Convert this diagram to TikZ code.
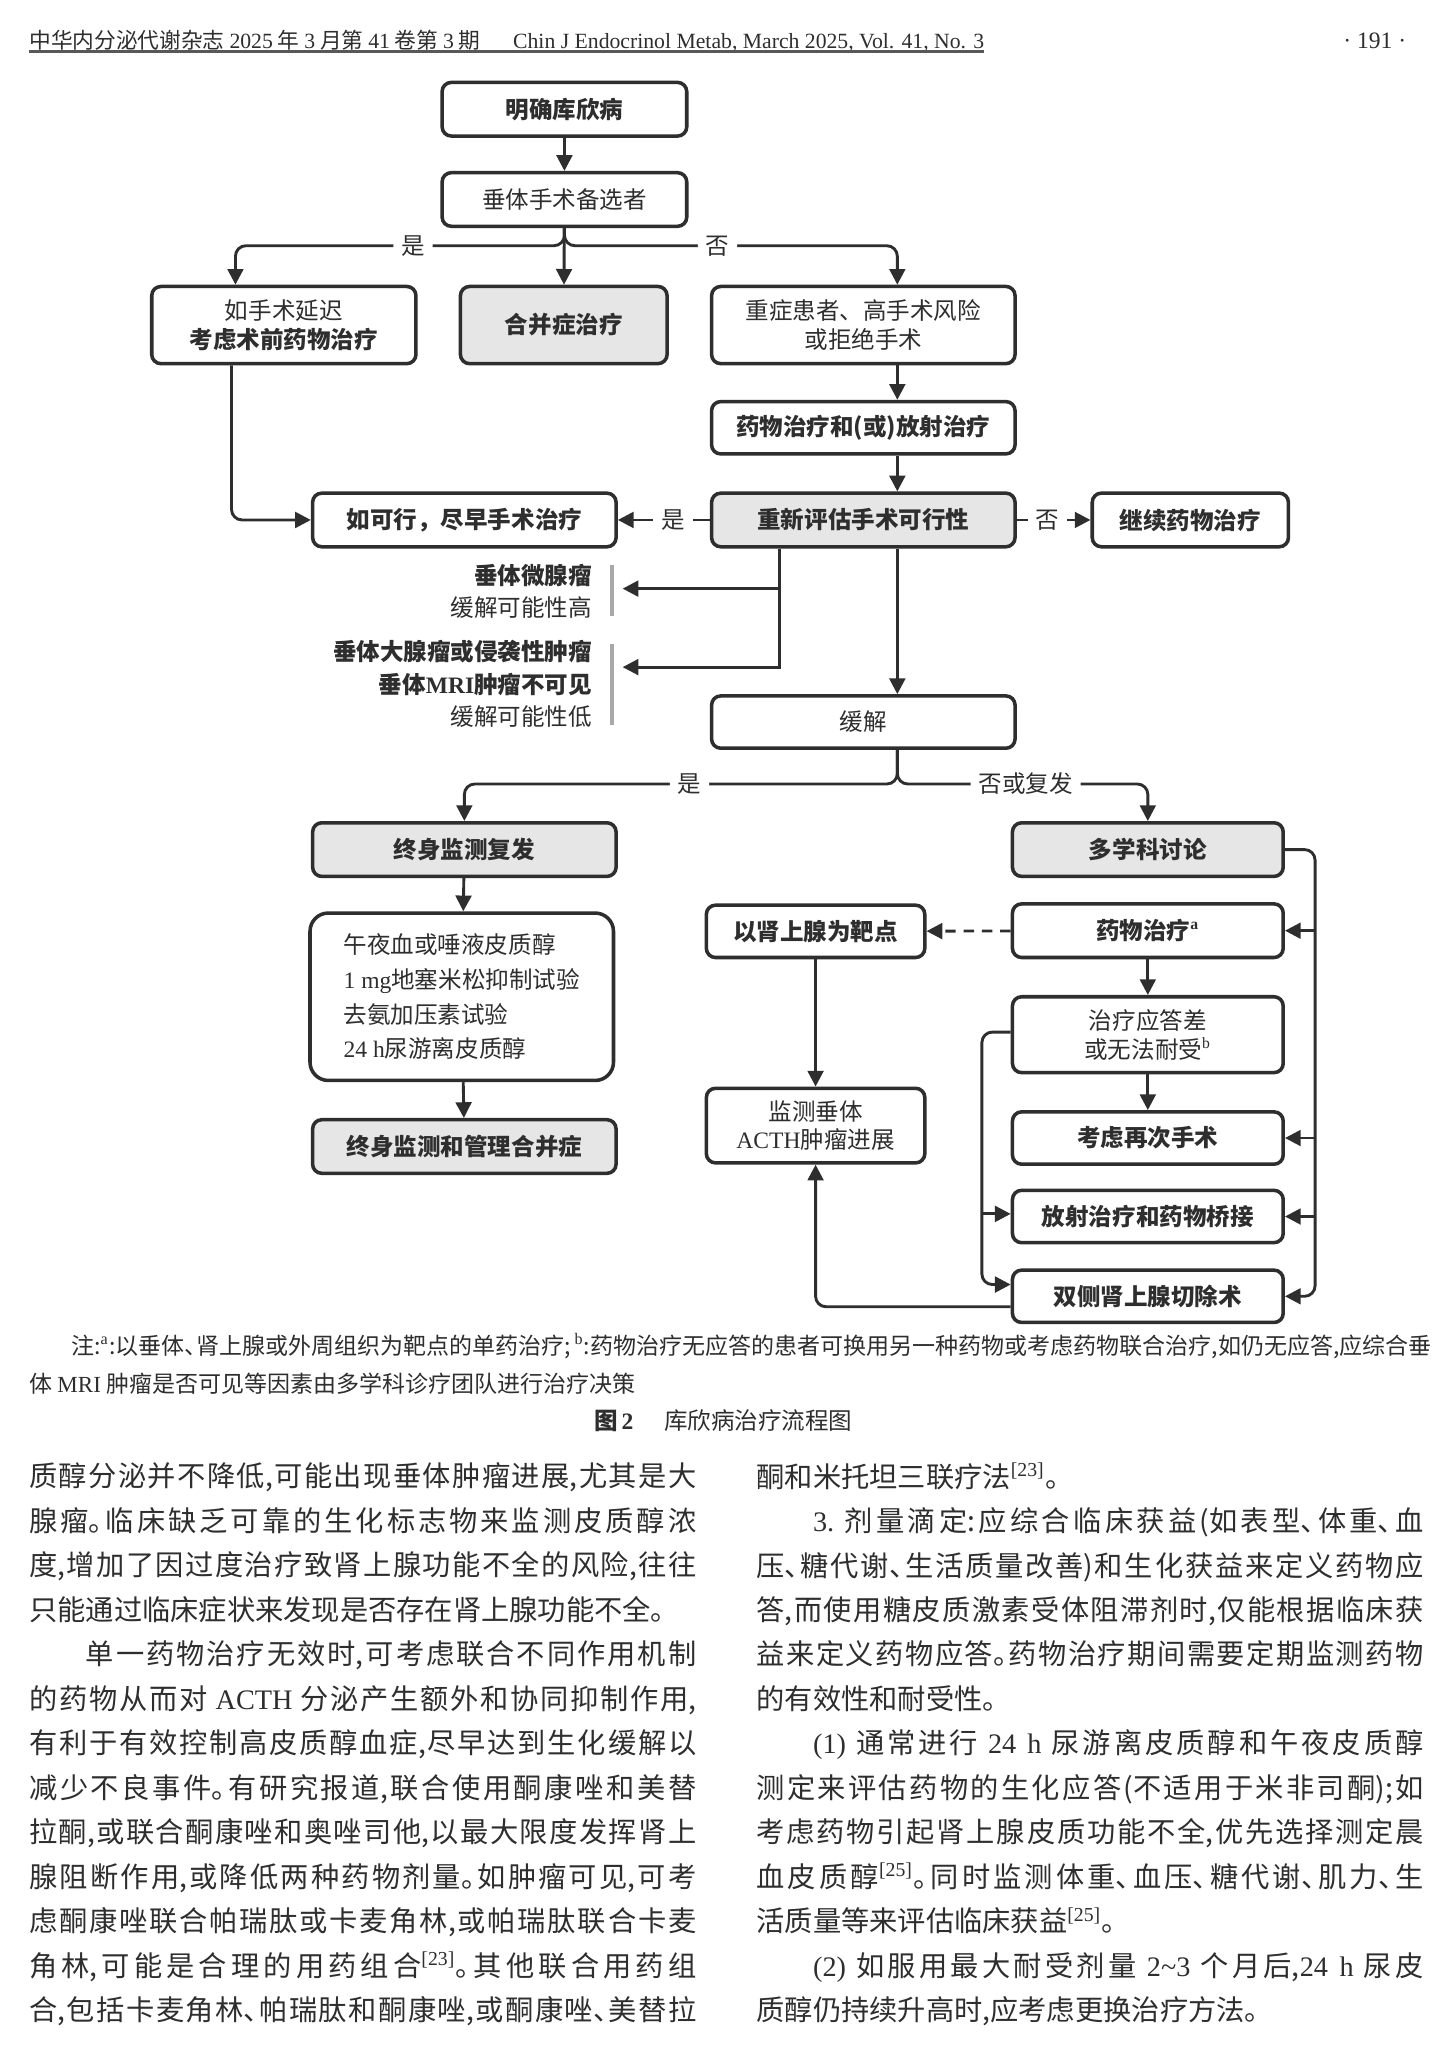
\documentclass[tikz,border=0pt]{standalone}
\usepackage{graphicx}
\usepackage{fontspec}
\setmainfont{Noto Sans CJK SC}
\newfontfamily\bodyfont[RawFeature=+halt]{Noto Sans CJK SC}
\newfontfamily\latfont{Liberation Serif}
\newcommand\lat[1]{{\latfont #1}}
\usetikzlibrary{positioning}
\usetikzlibrary{arrows.meta}
\usetikzlibrary{calc}
\definecolor{ink}{HTML}{2E2E2E}
\definecolor{shade}{HTML}{E6E6E6}
\definecolor{barc}{HTML}{A8A8A8}
\XeTeXlinebreaklocale "zh"
\XeTeXlinebreakskip=0pt plus 1pt
\XeTeXlinebreakpenalty=10000

\begin{document}
\begin{tikzpicture}[x=0.5pt, y=-0.5pt,
  every node/.style={text=ink},
  box/.style={draw=ink, line width=1.35pt, rounded corners=3.5pt, fill=white, align=center,
    inner sep=1pt, minimum height=20.5pt, font=\fontsize{9}{11}\selectfont},
  hl/.style={box, fill=shade},
  lbl/.style={fill=white, inner xsep=3pt, inner ysep=0.5pt, font=\fontsize{9}{11}\selectfont},
  arr/.style={draw=ink, line width=1.1pt, -{Triangle[length=6pt,width=6pt]}},
  side/.style={align=right, inner sep=0pt, font=\fontsize{9}{12.5}\selectfont},
  bar/.style={draw=barc, line width=1.4pt},
  body/.style={anchor=north west, inner sep=0pt, text width=255pt, align=justify,
    font=\bodyfont\fontsize{10.8}{17}\selectfont}]

  \fill[white] (0,0) rectangle (1110,1569.5);
  \useasboundingbox (0,0) rectangle (1110,1569.5);

  % running head
  \node[anchor=west, inner sep=0pt, font=\fontsize{8.5}{10}\selectfont] (head) at (22,31)
    {\resizebox{365pt}{!}{中华内分泌代谢杂志 \lat{2025} 年 \lat{3} 月第 \lat{41} 卷第 \lat{3} 期\hspace{1.5em}\lat{Chin J Endocrinol Metab, March 2025, Vol. 41, No. 3}}};
  \draw[draw=ink!80, line width=1.2pt] (22,39.5) -- (752,39.5);
  \node[inner sep=0pt, font=\latfont\fontsize{9}{10}\selectfont] (page) at (1051,31) {· 191 ·};

  % flow chart
  \node[box, minimum width=93.5pt] (diag) at (431.5,83.5) {\bfseries 明确库欣病};
  \node[box, minimum width=93.5pt] (cand) at (431.5,152.5) {垂体手术备选者};
  \node[box, minimum width=101pt, minimum height=29.5pt] (delay) at (217,248.5) {如手术延迟\\\bfseries 考虑术前药物治疗};
  \node[hl, minimum width=79pt, minimum height=29.5pt] (comorb) at (431,248.5) {\bfseries 合并症治疗};
  \node[box, minimum width=116pt, minimum height=29.5pt] (risk) at (660,248.5) {重症患者、高手术风险\\或拒绝手术};
  \node[box, minimum width=116pt, minimum height=20pt] (medrad) at (660,327) {\bfseries 药物治疗和(或)放射治疗};
  \node[box, minimum width=116pt] (early) at (355,397.5) {\bfseries 如可行，尽早手术治疗};
  \node[hl, minimum width=116pt] (reeval) at (660,397.5) {\bfseries 重新评估手术可行性};
  \node[box, minimum width=75pt] (cont) at (910,397.5) {\bfseries 继续药物治疗};
  \node[side, anchor=east] (micro) at (453,452) {{\bfseries 垂体微腺瘤}\\缓解可能性高};
  \node[side, anchor=east] (macro) at (453,523) {{\bfseries 垂体大腺瘤或侵袭性肿瘤}\\{\bfseries 垂体\lat{MRI}肿瘤不可见}\\缓解可能性低};
  \node[box, minimum width=116pt, minimum height=20pt] (remis) at (660,552) {缓解};
  \node[hl, minimum width=116pt] (lifelong) at (355,649.5) {\bfseries 终身监测复发};
  \node[box, rounded corners=7pt, minimum width=116pt, minimum height=64pt, align=left,
    font=\fontsize{9}{13.2}\selectfont] (tests) at (353,762)
    {午夜血或唾液皮质醇\\\lat{1 mg}地塞米松抑制试验\\去氨加压素试验\\\lat{24 h}尿游离皮质醇};
  \node[hl, minimum width=116pt] (comp) at (355,876.5) {\bfseries 终身监测和管理合并症};
  \node[hl, minimum width=103.5pt] (mdt) at (877.5,649.5) {\bfseries 多学科讨论};
  \node[box, minimum width=103.5pt] (med) at (877.5,711.5) {\bfseries 药物治疗\textsuperscript{\lat{a}}};
  \node[box, minimum width=83.5pt, minimum height=20pt] (adrenal) at (623.5,712) {\bfseries 以肾上腺为靶点};
  \node[box, minimum width=103.5pt, minimum height=29pt] (poor) at (877.5,791) {治疗应答差\\或无法耐受\textsuperscript{\lat{b}}};
  \node[box, minimum width=103.5pt, minimum height=20pt] (resurg) at (877.5,870) {\bfseries 考虑再次手术};
  \node[box, minimum width=103.5pt, minimum height=20pt] (radio) at (877.5,930) {\bfseries 放射治疗和药物桥接};
  \node[box, minimum width=103.5pt, minimum height=20pt] (blat) at (877.5,991) {\bfseries 双侧肾上腺切除术};
  \node[box, minimum width=83.5pt, minimum height=28.5pt] (tumor) at (623.5,860.5) {监测垂体\\\lat{ACTH}肿瘤进展};

  \coordinate (toMicro) at (476,450);
  \coordinate (toMacro) at (476,510);

  \draw[arr] (diag) -- (cand);
  \draw[arr] (cand) -- (comorb);
  \draw[arr, rounded corners=4pt] (cand.south) -- ++(0,13.5) -| ($(delay.north)+(-37,0)$) node[lbl, pos=0.23] {是};
  \draw[arr, rounded corners=4pt] (cand.south) -- ++(0,13.5) -| ($(risk.north)+(26,0)$) node[lbl, pos=0.23] {否};
  \draw[arr] ($(risk.south)+(26,0)$) -- ($(medrad.north)+(26,0)$);
  \draw[arr] ($(medrad.south)+(26,0)$) -- ($(reeval.north)+(26,0)$);
  \draw[arr, rounded corners=4pt] ($(delay.south)+(-40,0)$) |- (early.west);
  \draw[arr] (reeval.west) -- (early.east) node[lbl, pos=0.4] {是};
  \draw[arr] (reeval.east) -- (cont.west) node[lbl, pos=0.42] {否};
  \draw[arr] ($(reeval.south)+(-64,0)$) |- (toMicro);
  \draw[arr] ($(reeval.south)+(-64,0)$) |- (toMacro);
  \draw[bar] ($(micro.north east)+(15,1.5)$) -- ($(micro.south east)+(15,-2.5)$);
  \draw[bar] ($(macro.north east)+(15,3)$) -- ($(macro.south east)+(15,-3)$);
  \draw[arr] ($(reeval.south)+(26,0)$) -- ($(remis.north)+(26,0)$);
  \draw[arr, rounded corners=4pt] ($(remis.south)+(26,0)$) -- ++(0,26) -| (lifelong.north) node[lbl, pos=0.24] {是};
  \draw[arr, rounded corners=4pt] ($(remis.south)+(26,0)$) -- ++(0,26) -| (mdt.north) node[lbl, pos=0.256] {否或复发};
  \draw[arr] (lifelong) -- (tests);
  \draw[arr] (tests) -- (comp);
  \draw[arr] (med) -- (poor);
  \draw[arr] (poor) -- (resurg);
  \draw[arr, dash pattern=on 4pt off 3pt] (med) -- (adrenal);
  \draw[arr] (adrenal) -- (tumor);
  \draw[arr, rounded corners=4pt] (mdt.east) -| ($(blat.east)+(23,0)$) -- (blat.east);
  \draw[arr] ($(med.east)+(23,0)$) -- (med.east);
  \draw[arr] ($(resurg.east)+(23,0)$) -- (resurg.east);
  \draw[arr] ($(radio.east)+(23,0)$) -- (radio.east);
  \draw[arr, rounded corners=4pt] ($(poor.west)+(0,-2)$) -| ($(blat.west)+(-22,-9)$) -- ($(blat.west)+(0,-9)$);
  \draw[arr] ($(radio.west)+(-22,-2)$) -- ($(radio.west)+(0,-2)$);
  \draw[arr, rounded corners=4pt] ($(blat.west)+(0,8)$) -| (tumor.south);

  % note and caption
  \node[anchor=north west, inner sep=0pt, text width=533pt, align=justify,
    font=\bodyfont\fontsize{8.8}{14.5}\selectfont] (note) at (22,1019)
    {\hspace*{16pt}注:\textsuperscript{\lat{a}}:以垂体、肾上腺或外周组织为靶点的单药治疗;\,\textsuperscript{\lat{b}}:药物治疗无应答的患者可换用另一种药物或考虑药物联合治疗,如仍无应答,应综合垂\linebreak
    体~\lat{MRI}~肿瘤是否可见等因素由多学科诊疗团队进行治疗决策};
  \node[font=\fontsize{9}{11}\selectfont] (cap) at (553,1086) {{\bfseries 图\,\lat{\bfseries 2}}\hspace{1.3em}库欣病治疗流程图};

  % running text
  \node[body] (colL) at (22,1118) {%
    质醇分泌并不降低,可能出现垂体肿瘤进展,尤其是大\linebreak
    腺瘤。临床缺乏可靠的生化标志物来监测皮质醇浓\linebreak
    度,增加了因过度治疗致肾上腺功能不全的风险,往往\linebreak
    只能通过临床症状来发现是否存在肾上腺功能不全。\par
    \hspace*{2em}单一药物治疗无效时,可考虑联合不同作用机制\linebreak
    的药物从而对~\lat{ACTH}~分泌产生额外和协同抑制作用,\linebreak
    有利于有效控制高皮质醇血症,尽早达到生化缓解以\linebreak
    减少不良事件。有研究报道,联合使用酮康唑和美替\linebreak
    拉酮,或联合酮康唑和奥唑司他,以最大限度发挥肾上\linebreak
    腺阻断作用,或降低两种药物剂量。如肿瘤可见,可考\linebreak
    虑酮康唑联合帕瑞肽或卡麦角林,或帕瑞肽联合卡麦\linebreak
    角林,可能是合理的用药组合\textsuperscript{\lat{[23]}}。其他联合用药组\linebreak
    合,包括卡麦角林、帕瑞肽和酮康唑,或酮康唑、美替拉\linebreak};
  \node[body] (colR) at (578,1118) {%
    酮和米托坦三联疗法\textsuperscript{\lat{[23]}}。\par
    \hspace*{2em}\lat{3.}~剂量滴定:应综合临床获益(如表型、体重、血\linebreak
    压、糖代谢、生活质量改善)和生化获益来定义药物应\linebreak
    答,而使用糖皮质激素受体阻滞剂时,仅能根据临床获\linebreak
    益来定义药物应答。药物治疗期间需要定期监测药物\linebreak
    的有效性和耐受性。\par
    \hspace*{2em}\lat{(1)}~通常进行~\lat{24~h}~尿游离皮质醇和午夜皮质醇\linebreak
    测定来评估药物的生化应答(不适用于米非司酮);如\linebreak
    考虑药物引起肾上腺皮质功能不全,优先选择测定晨\linebreak
    血皮质醇\textsuperscript{\lat{[25]}}。同时监测体重、血压、糖代谢、肌力、生\linebreak
    活质量等来评估临床获益\textsuperscript{\lat{[25]}}。\par
    \hspace*{2em}\lat{(2)}~如服用最大耐受剂量~\lat{2\textasciitilde 3}~个月后,\lat{24~h}~尿皮\linebreak
    质醇仍持续升高时,应考虑更换治疗方法。};
\end{tikzpicture}
\end{document}
